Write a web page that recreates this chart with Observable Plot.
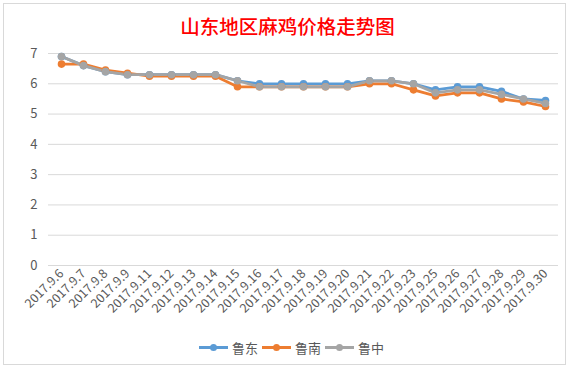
<!DOCTYPE html>
<html>
<head>
<meta charset="utf-8">
<script src="https://cdn.jsdelivr.net/npm/d3@7"></script>
<script src="https://cdn.jsdelivr.net/npm/@observablehq/plot@0.6"></script>
<style>
  html, body { margin: 0; padding: 0; background: #fff; }
  #wrap { position: relative; width: 575px; height: 370px; overflow: hidden; font-family: "Microsoft YaHei", "Noto Sans CJK SC", sans-serif; }
  #frame { position: absolute; left: 3px; top: 3px; width: 563px; height: 362px; border: 1px solid #d9d9d9; box-sizing: border-box; }
  #title { position: absolute; left: 0; width: 575px; top: 11px; text-align: center; color: #ff0000; font-size: 19.5px; font-weight: 500; font-family: "Noto Sans CJK SC", serif; }
  #chart { position: absolute; left: 0; top: 0; }
  #legend { position: absolute; top: 338px; left: 199px; display: flex; align-items: center; font-size: 13px; color: #595959; }
  .item { display: flex; align-items: center; margin-right: 4px; }
  .sw { position: relative; width: 29px; height: 3px; margin-right: 4px; }
  .sw i { position: absolute; left: 11px; top: -2.5px; width: 7px; height: 7px; border-radius: 50%; }
</style>
</head>
<body>
<div id="wrap">
  <div id="frame"></div>
  <div id="chart"></div>
  <div id="title">山东地区麻鸡价格走势图</div>
  <div id="legend"></div>
</div>
<script>
const dates = ["2017.9.6","2017.9.7","2017.9.8","2017.9.9","2017.9.11","2017.9.12","2017.9.13","2017.9.14","2017.9.15","2017.9.16","2017.9.17","2017.9.18","2017.9.19","2017.9.20","2017.9.21","2017.9.22","2017.9.23","2017.9.25","2017.9.26","2017.9.27","2017.9.28","2017.9.29","2017.9.30"];
const seriesNames = ["鲁东","鲁南","鲁中"];
const luDong  = [6.9,6.6,6.4,6.3,6.3,6.3,6.3,6.3,6.1,6.0,6.0,6.0,6.0,6.0,6.1,6.1,6.0,5.8,5.9,5.9,5.75,5.5,5.45];
const luNan   = [6.65,6.65,6.45,6.35,6.25,6.25,6.25,6.25,5.9,5.9,5.9,5.9,5.9,5.9,6.0,6.0,5.8,5.6,5.7,5.7,5.5,5.4,5.25];
const luZhong = [6.9,6.6,6.4,6.3,6.3,6.3,6.3,6.3,6.1,5.9,5.9,5.9,5.9,5.9,6.1,6.1,6.0,5.7,5.8,5.8,5.65,5.5,5.35];
const yTicks = [0,1,2,3,4,5,6,7];
const colors = ["#5B9BD5","#ED7D31","#A5A5A5"];

const valuesBySeries = [luDong, luNan, luZhong];
const data = [];
seriesNames.forEach((s, si) => {
  dates.forEach((d, i) => data.push({series: s, date: d, value: valuesBySeries[si][i]}));
});

const chart = Plot.plot({
  width: 575,
  height: 370,
  marginTop: 53,
  marginBottom: 105,
  marginLeft: 48,
  marginRight: 17,
  style: {fontFamily: "Microsoft YaHei, Noto Sans CJK SC, sans-serif", background: "transparent"},
  x: {type: "point", domain: dates, padding: 0.5, label: null},
  y: {domain: [0, 7], ticks: yTicks, label: null},
  color: {domain: seriesNames, range: colors},
  marks: [
    Plot.gridY(yTicks, {stroke: "#d9d9d9", strokeOpacity: 1, strokeWidth: 1}),
    Plot.axisY(yTicks, {tickSize: 0, tickPadding: 11, fontSize: 13, fill: "#595959", label: null}),
    Plot.axisX({tickSize: 0, tickPadding: 6, tickRotate: -45, fontSize: 12.5, fill: "#595959", label: null}),
    Plot.line(data, {x: "date", y: "value", z: "series", stroke: "series", strokeWidth: 2.75, curve: "linear"}),
    Plot.dot(data, {x: "date", y: "value", fill: "series", r: 3.8, stroke: "none"})
  ]
});
document.getElementById("chart").appendChild(chart);

const legend = document.getElementById("legend");
seriesNames.forEach((s, i) => {
  const item = document.createElement("div");
  item.className = "item";
  item.innerHTML = `<span class="sw" style="background:${colors[i]}"><i style="background:${colors[i]}"></i></span><span>${s}</span>`;
  legend.appendChild(item);
});
</script>
</body>
</html>
